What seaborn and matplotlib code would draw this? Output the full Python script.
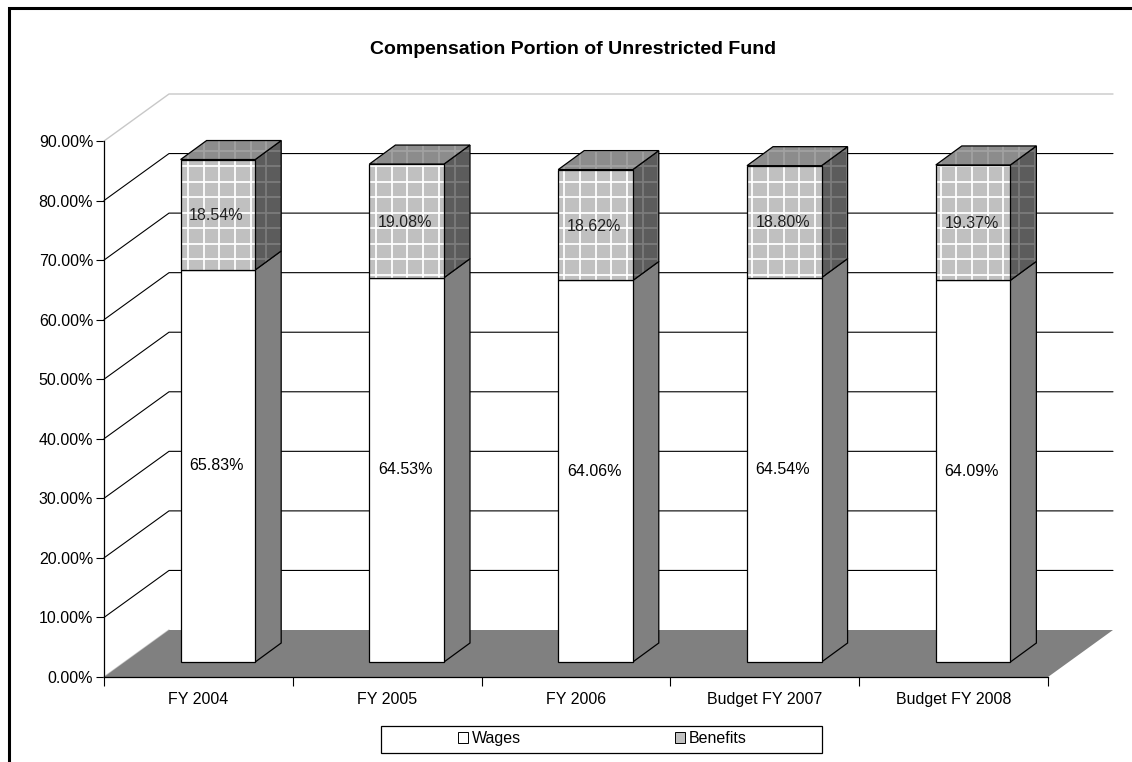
import numpy as np
import pandas as pd
import seaborn as sns
import matplotlib.pyplot as plt
from matplotlib.collections import LineCollection
from matplotlib.lines import Line2D
from matplotlib.patches import Patch, Polygon, Rectangle
from matplotlib.transforms import Affine2D, IdentityTransform

categories = ['FY 2004', 'FY 2005', 'FY 2006', 'Budget FY 2007', 'Budget FY 2008']
wages = [65.83, 64.53, 64.06, 64.54, 64.09]
benefits = [18.54, 19.08, 18.62, 18.80, 19.37]
y_ticks = [0, 10, 20, 30, 40, 50, 60, 70, 80, 90]

W, H = 1132, 762
# axes box in pixels
L, R, T, B = 104, 1048, 141, 677
PX_X = (R - L) / 5      # pixels per category
PX_Y = (B - T) / 90     # pixels per percent
FS = 11.5

sns.set_theme(style='white')
plt.rcParams['font.family'] = ['Liberation Sans', 'DejaVu Sans']
plt.rcParams['font.size'] = FS

fig = plt.figure(figsize=(W / 100, H / 100), dpi=100, facecolor='white')
ax = fig.add_axes([L / W, 1 - B / H, (R - L) / W, (B - T) / H])
ax.patch.set_alpha(0)

df = pd.DataFrame({'cat': categories, 'wages': wages, 'benefits': benefits})
sns.barplot(data=df, x='cat', y='wages', width=0.395, color='white', saturation=1,
            edgecolor='black', linewidth=0.9, ax=ax, zorder=6)
sns.barplot(data=df, x='cat', y='benefits', bottom=df['wages'], width=0.395, color='#c0c0c0',
            saturation=1, edgecolor='black', linewidth=0.9, ax=ax, zorder=6)
ax.set_xlim(-0.5, 4.5)
ax.set_ylim(0, 90)

# back wall, floor
wall_x, wall_y = 65 / PX_X, 47 / PX_Y
for t in y_ticks[1:-1]:
    ax.plot([-0.5, -0.5 + wall_x, 4.5 + wall_x], [t, t + wall_y, t + wall_y],
            color='black', lw=0.8, clip_on=False, zorder=1)
ax.plot([-0.5, -0.5 + wall_x, 4.5 + wall_x], [90, 90 + wall_y, 90 + wall_y],
        color='#c8c8c8', lw=1, clip_on=False, zorder=1)
ax.plot([-0.5, -0.5 + wall_x], [0, wall_y], color='#c8c8c8', lw=1, clip_on=False, zorder=1)
ax.add_patch(Polygon([(-0.5, 0), (4.5, 0), (4.5 + wall_x, wall_y), (-0.5 + wall_x, wall_y)],
                     facecolor='#808080', edgecolor='none', clip_on=False, zorder=2))

# bars sit in the middle of the floor, not on the axis
front = ax.transData + Affine2D().translate(19.5, 15)
dep_x, dep_y = 26 / PX_X, 19 / PX_Y
label_dx = -1.5 / PX_X


def lattice(poly, color, zorder):
    # the pattern lines are fixed to the screen, same on every face
    xs = np.arange(-0.2, W, 15.68)
    ys = np.arange(H - 166 - 15.5 * 40, H, 15.5)
    segs = [[(x, 0), (x, H)] for x in xs] + [[(0, y), (W, y)] for y in ys]
    lc = LineCollection(segs, colors=color, linewidths=1.3, transform=IdentityTransform(), zorder=zorder)
    ax.add_collection(lc, autolim=False)
    lc.set_clip_path(poly)


def face(pts, fill, line, zorder):
    poly = Polygon(pts, facecolor=fill, edgecolor='none', transform=front, clip_on=False, zorder=zorder)
    ax.add_patch(poly)
    if line:
        lattice(poly, line, zorder + 0.1)
    ax.add_patch(Polygon(pts, fill=False, edgecolor='black', lw=0.9, transform=front,
                         clip_on=False, zorder=zorder + 0.2))


n = len(categories)
bars = list(ax.patches)[:2 * n]
for i in range(n):
    w_bar, b_bar = bars[i], bars[n + i]
    x0 = w_bar.get_x()
    x1 = x0 + w_bar.get_width()
    y0 = w_bar.get_height()
    y1 = y0 + b_bar.get_height()
    base = 3 + i * 0.01
    face([(x1, 0), (x1 + dep_x, dep_y), (x1 + dep_x, y0 + dep_y), (x1, y0)], '#808080', None, base)
    face([(x1, y0), (x1 + dep_x, y0 + dep_y), (x1 + dep_x, y1 + dep_y), (x1, y1)], '#5c5c5c', '#7c7c7c', base + 0.3)
    face([(x0, y1), (x1, y1), (x1 + dep_x, y1 + dep_y), (x0 + dep_x, y1 + dep_y)], '#8c8c8c', '#a2a2a2', base + 0.6)
    w_bar.set_transform(front)
    b_bar.set_transform(front)
    w_bar.set_clip_on(False)
    b_bar.set_clip_on(False)
    b_bar.set_edgecolor('none')
    pts = [(x0, y0), (x1, y0), (x1, y1), (x0, y1)]
    face(pts, '#c0c0c0', 'white', 7)
    ax.text((x0 + x1) / 2 + label_dx, y0 / 2, f'{wages[i]:.2f}%', transform=front, ha='center', va='center',
            fontsize=FS, color='black', zorder=9)
    ax.text((x0 + x1) / 2 + label_dx, (y0 + y1) / 2 - 0.2, f'{benefits[i]:.2f}%', transform=front, ha='center',
            va='center', fontsize=FS, color='#222222', zorder=9)

# axes
ax.set_xlabel('')
ax.set_ylabel('')
ax.set_yticks(y_ticks)
ax.set_yticklabels([f'{t:.2f}%' for t in y_ticks], fontsize=FS, color='black')
ax.set_xticks(range(n))
ax.set_xticklabels(categories, fontsize=FS, color='black')
ax.set_xticks(np.arange(-0.5, 5), minor=True)
ax.tick_params(axis='y', which='major', left=True, length=5.8, width=0.8, color='black', pad=2)
ax.tick_params(axis='x', which='major', bottom=False, length=0, pad=11)
ax.tick_params(axis='x', which='minor', bottom=True, length=6.5, width=0.8, color='black')
sns.despine(ax=ax, top=True, right=True)
for s in ['left', 'bottom']:
    ax.spines[s].set_color('black')
    ax.spines[s].set_linewidth(0.9)
    ax.spines[s].set_zorder(10)

fig.suptitle('Compensation Portion of Unrestricted Fund', x=573.5 / W, y=1 - 49 / H, va='center',
             fontsize=14, fontweight='bold', color='black')

# legend box
fig.add_artist(Rectangle((380.5 / W, 1 - 753 / H), 441 / W, 27.5 / H, transform=fig.transFigure,
                         facecolor='white', edgecolor='black', lw=0.9))
handles = [Patch(facecolor='white', edgecolor='black', lw=0.7),
           Patch(facecolor='#c0c0c0', edgecolor='black', lw=0.7)]
fig.legend(handles, ['Wages', 'Benefits'], loc='center', bbox_to_anchor=(602.5 / W, 1 - 738.5 / H),
           ncols=2, frameon=False, fontsize=FS, columnspacing=9.6, handlelength=0.63, handleheight=0.63,
           handletextpad=0.25, borderpad=0, labelcolor='black')

# outer frame, cut off on the right and bottom
fig.add_artist(Line2D([8.5 / W, 8.5 / W, 1], [0, 1 - 7.5 / H, 1 - 7.5 / H], transform=fig.transFigure,
                      color='black', lw=2.2, solid_joinstyle='miter'))

fig.savefig('out.png', dpi=100, facecolor='white')
